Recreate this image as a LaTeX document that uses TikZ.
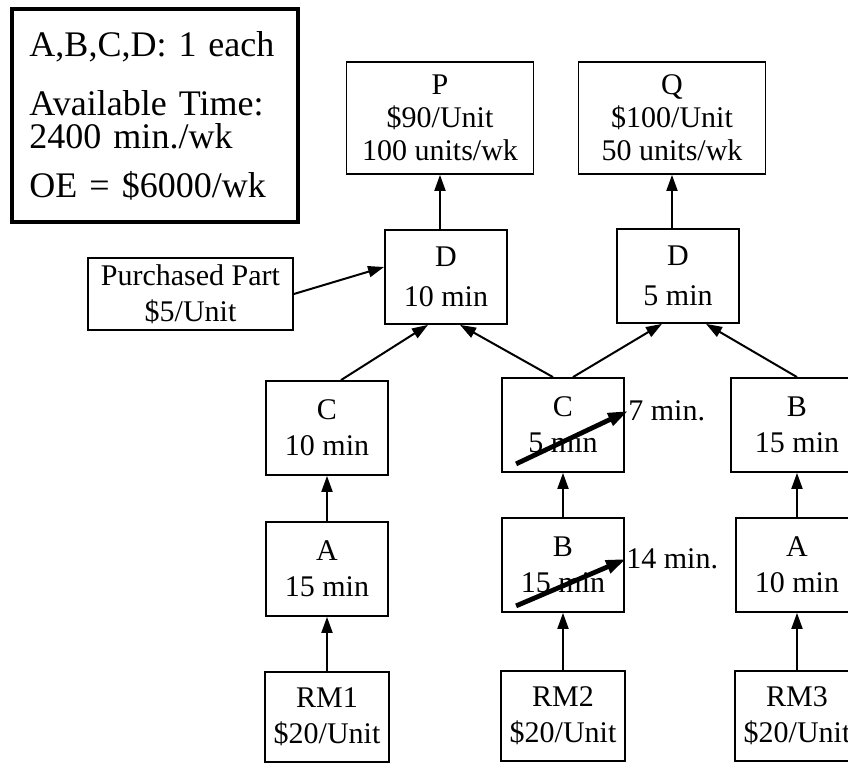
\documentclass[tikz,border=0pt]{standalone}
\usepackage{fontspec}
\setmainfont{Liberation Serif}
\usetikzlibrary{arrows.meta}

\begin{document}
\begin{tikzpicture}[x=0.5pt, y=-0.5pt,
    box/.style={draw, line width=0.9pt, align=center, inner sep=2pt, font=\fontsize{15}{18}\selectfont},
    opbox/.style={box, minimum width=61pt, minimum height=47pt},
    prodbox/.style={box, minimum width=93.5pt, minimum height=56pt, font=\fontsize{15}{16.5}\selectfont},
    rmbox/.style={box, minimum width=62pt, minimum height=45pt},
    infobox/.style={draw, line width=2pt, align=left, text width=125pt, inner xsep=9pt, minimum height=106.5pt, font=\fontsize{18}{16.5}\selectfont},
    flow/.style={-{Triangle[length=8pt, width=5.5pt]}, line width=1pt},
    change/.style={-{Triangle[length=10pt, width=6.5pt]}, line width=2.4pt},
    note/.style={anchor=west, inner sep=0pt, font=\fontsize{15}{18}\selectfont}]
  \useasboundingbox (0,0) rectangle (848,763);
  \clip (0,0) rectangle (848,763);
  \node[infobox] (limits) at (154.5,116) {A,B,C,D: 1 each\\[13pt]Available Time:\\2400 min./wk\\[8pt]OE = \$6000/wk};
  \node[prodbox] (P) at (440,118) {P\\\$90/Unit\\100 units/wk};
  \node[prodbox] (Q) at (672,118) {Q\\\$100/Unit\\50 units/wk};
  \node[opbox] (D1) at (446,277) {D\\[2pt]10 min};
  \node[opbox] (D2) at (678,276) {D\\[2pt]5 min};
  \node[box, minimum width=102.5pt, minimum height=36pt] (part) at (190.5,294) {Purchased Part\\\$5/Unit};
  \node[opbox] (C1) at (327,428) {C\\10 min};
  \node[opbox] (C2) at (563,425) {C\\5 min};
  \node[opbox, minimum width=66pt] (B3) at (797,425) {B\\15 min};
  \node[opbox] (A1) at (327,569) {A\\15 min};
  \node[opbox] (B2) at (563,565) {B\\15 min};
  \node[opbox] (A3) at (797,565) {A\\10 min};
  \node[rmbox] (RM1) at (327,717) {RM1\\\$20/Unit};
  \node[rmbox] (RM2) at (563,716) {RM2\\\$20/Unit};
  \node[rmbox] (RM3) at (797,716) {RM3\\\$20/Unit};
  \node[note] (t7) at (628,411) {7 min.};
  \node[note] (t14) at (626,559) {14 min.};
  \draw[flow] (RM1) -- (A1);
  \draw[flow] (A1) -- (C1);
  \draw[flow] (RM2) -- (B2);
  \draw[flow] (B2) -- (C2);
  \draw[flow] (RM3) -- (A3);
  \draw[flow] (A3) -- (B3);
  \draw[flow] ([xshift=7pt]C1.north) -- ([xshift=-9pt]D1.south);
  \draw[flow] ([xshift=-5pt]C2.north) -- ([xshift=7pt]D1.south);
  \draw[flow] ([xshift=5pt]C2.north) -- ([xshift=-8pt]D2.south);
  \draw[flow] (B3.north) -- ([xshift=14pt]D2.south);
  \draw[flow] (part.east) -- ([yshift=5pt]D1.west);
  \draw[flow] (P.south |- D1.north) -- (P.south);
  \draw[flow] (Q.south |- D2.north) -- (Q.south);
  \draw[change] ([xshift=7.5pt,yshift=4.5pt]C2.south west) -- (t7.west);
  \draw[change] ([xshift=7.5pt,yshift=3.5pt]B2.south west) -- (t14.west);
\end{tikzpicture}
\end{document}
